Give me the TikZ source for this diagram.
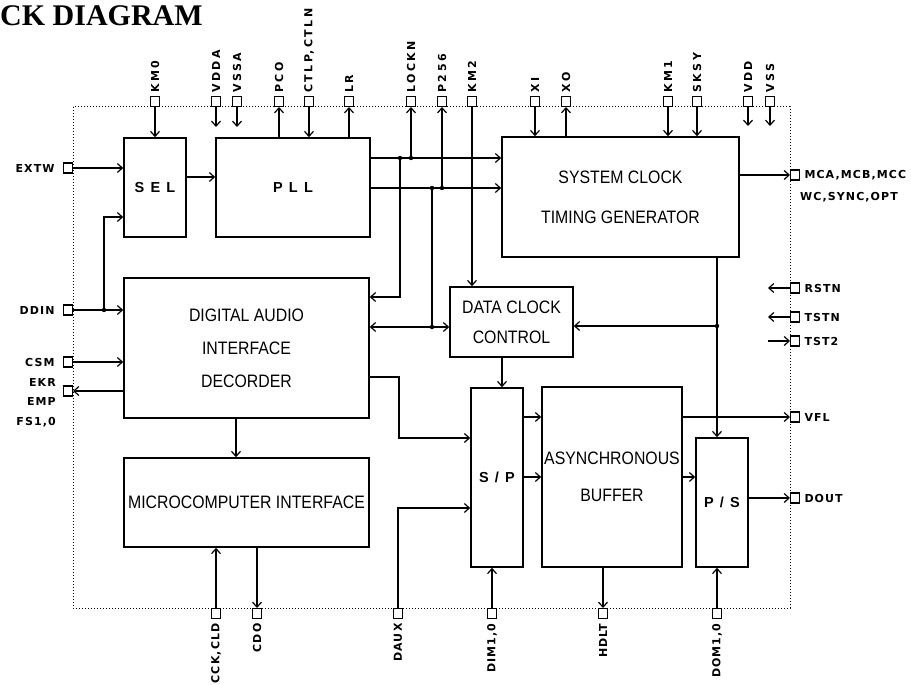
\documentclass[tikz,border=0pt]{standalone}
\usepackage{fontspec}
\setmainfont{Liberation Sans}
\newfontfamily\pinfont[LetterSpace=10]{DejaVu Sans}
\newfontfamily\pinfontv[LetterSpace=22]{DejaVu Sans}
\newfontfamily\blkfont[FakeStretch=0.88]{Liberation Sans}
\newfontfamily\selfont[LetterSpace=15]{Liberation Sans}
\newfontfamily\titlefont{Liberation Serif}
\usetikzlibrary{arrows.meta,calc}
\begin{document}
\begin{tikzpicture}[x=1pt,y=-1pt,
  blk/.style={draw,line width=1.6pt,inner sep=0pt,align=center,font=\blkfont\fontsize{18}{33}\selectfont},
  boldblk/.style={draw,line width=1.6pt,inner sep=0pt,align=center,font=\selfont\bfseries\fontsize{14.5}{20}\selectfont},
  pinbox/.style={draw,fill=white,line width=1.3pt,minimum width=9pt,minimum height=10pt,inner sep=0pt},
  pinlbl/.style={font=\pinfont\bfseries\fontsize{11}{20}\selectfont,inner sep=0pt},
  pinlblv/.style={font=\pinfontv\bfseries\fontsize{11}{20}\selectfont,inner sep=0pt,rotate=90},
  pinlblb/.style={font=\pinfont\bfseries\fontsize{11}{20}\selectfont,inner sep=0pt,rotate=90},
  wire/.style={line width=1.4pt},
  arr/.style={wire,-{Straight Barb[length=5pt,width=9pt,line width=1.2pt]}},
  arrtwo/.style={wire,{Straight Barb[length=5pt,width=9pt,line width=1.2pt]}-{Straight Barb[length=5pt,width=9pt,line width=1.2pt]}},
  dot/.style={fill=black}]
\useasboundingbox (0,0) rectangle (911,685);

% title
\node[font=\titlefont\bfseries\fontsize{30}{36}\selectfont,anchor=base west,inner sep=0pt] (title) at (0,26) {CK DIAGRAM};

% chip border
\draw[dotted,line width=1pt] (73,107) rectangle (790,608);

% blocks
\node[boldblk,minimum width=62pt,minimum height=99pt] (sel) at (155,187.5) {S E L};
\node[boldblk,minimum width=154pt,minimum height=99pt] (pll) at (293,187.5) {P L L};
\node[blk,font=\blkfont\fontsize{18}{40}\selectfont,minimum width=237pt,minimum height=120pt] (sys) at (620.5,197) {SYSTEM CLOCK\\TIMING GENERATOR};
\node[blk,minimum width=245pt,minimum height=140pt] (dai) at (246.5,348) {DIGITAL AUDIO\\INTERFACE\\DECORDER};
\node[blk,font=\blkfont\fontsize{18}{30}\selectfont,minimum width=123pt,minimum height=70pt] (dcc) at (511.5,322) {DATA CLOCK\\CONTROL};
\node[blk,minimum width=245pt,minimum height=89pt] (mci) at (246.5,502.5) {MICROCOMPUTER INTERFACE};
\node[boldblk,minimum width=52pt,minimum height=179pt] (sp) at (497,477.5) {S / P};
\node[blk,font=\blkfont\fontsize{18}{37}\selectfont,minimum width=140pt,minimum height=180pt] (ab) at (612,477) {ASYNCHRONOUS\\BUFFER};
\node[boldblk,minimum width=52pt,minimum height=129pt] (ps) at (722,502.5) {P / S};

% top pins
\foreach \n/\x/\t in {kmo/155/KM0, vdda/216/VDDA, vssa/237/VSSA, pco/279/PCO, ctl/309/{CTLP,CTLN}, lr/349/LR, lockn/411/LOCKN, p256/442/P256, km2/472/KM2, xi/535/XI, xo/566/XO, km1/668/KM1, sksy/697/SKSY, vdd/748/VDD, vss/770/VSS}{
  \node[pinbox,anchor=south] (\n) at (\x,107) {};
  \node[pinlblv,anchor=west] (\n-l) at ([yshift=3pt]\n.north) {\t};
}
% bottom pins
\foreach \n/\x/\t in {cck/216/{CCK,CLD}, cdo/257/CDO, daux/398/DAUX, dim/492/{DIM1,0}, hdlt/603/HDLT, dom/717/{DOM1,0}}{
  \node[pinbox,anchor=north] (\n) at (\x,608) {};
  \node[pinlblb,anchor=east] (\n-l) at ([yshift=-4pt]\n.south) {\t};
}
% left pins
\foreach \n/\y/\t in {extw/168/EXTW, ddin/310/DDIN, csm/362/CSM}{
  \node[pinbox,anchor=east] (\n) at (73,\y) {};
  \node[pinlbl,anchor=east] (\n-l) at ([xshift=-8pt]\n.west) {\t};
}
\node[pinbox,anchor=east] (err) at (73,391) {};
\node[pinlbl,anchor=east] (err-l1) at (56,382) {EKR};
\node[pinlbl,anchor=east] (err-l2) at (56,401) {EMP};
\node[pinlbl,anchor=east] (err-l3) at (56,422) {FS1,0};
% right pins
\foreach \n/\y/\t in {mca/175/{MCA,MCB,MCC}, rstn/288/RSTN, tstn/317/TSTN, tst2/341/TST2, vfl/417/VFL, dout/498/DOUT}{
  \node[pinbox,anchor=west] (\n) at (790,\y) {};
  \node[pinlbl,anchor=west] (\n-l) at ([xshift=4pt]\n.east) {\t};
}
\node[pinlbl,anchor=west] (mca-l2) at (800,197) {WC,SYNC,OPT};

% coordinates
\coordinate (ja) at (400,158);
\coordinate (jb) at (411,158);
\coordinate (jc) at (432,188);
\coordinate (jd) at (442,188);
\coordinate (je) at (400,297);
\coordinate (jf) at (432,327);
\coordinate (jg) at (717,326);
\coordinate (jh) at (502,0);
\coordinate (ji) at (399,377);
\coordinate (jj) at (399,438);
\coordinate (jk) at (398,508);
\coordinate (yl) at (0,417);
\coordinate (ym) at (0,477);
\coordinate (jn) at (236,0);
\coordinate (yo) at (0,177);
\coordinate (jp) at (104,310);
\coordinate (jq) at (104,217);

% top connections
\draw[arr] (kmo.south) -- (kmo.south |- sel.north);
\draw[arr] (vdda.south) -- ++(0,20);
\draw[arr] (vssa.south) -- ++(0,20);
\draw[arr] (pco.south |- pll.north) -- (pco.south);
\draw[arr] (ctl.south) -- (ctl.south |- pll.north);
\draw[arr] (lr.south |- pll.north) -- (lr.south);
\draw[arr] (jb) -- (lockn.south);
\draw[arr] (jd) -- (p256.south);
\draw[arr] (km2.south) -- (km2.south |- dcc.north);
\draw[arr] (xi.south) -- (xi.south |- sys.north);
\draw[arr] (xo.south |- sys.north) -- (xo.south);
\draw[arr] (km1.south) -- (km1.south |- sys.north);
\draw[arr] (sksy.south) -- (sksy.south |- sys.north);
\draw[arr] (vdd.south) -- ++(0,19);
\draw[arr] (vss.south) -- ++(0,19);

% PLL outputs
\draw[arr] (pll.east |- ja) -- (sys.west |- ja);
\draw[arr] (pll.east |- jc) -- (sys.west |- jc);
\draw[arr] (ja) -- (je) -- (dai.east |- je);
\draw[wire] (jc) -- (jf);
\draw[arrtwo] (dai.east |- jf) -- (dcc.west |- jf);

% system clock
\draw[arr] (sys.east |- mca) -- (mca.west);
\draw[arr] (sys.south -| jg) -- (ps.north -| jg);
\draw[arr] (jg) -- (dcc.east |- jg);
\draw[arr] (dcc.south -| jh) -- (sp.north -| jh);

% data path
\draw[arr] (dai.east |- ji) -- (ji) -- (jj) -- (sp.west |- jj);
\draw[arr] (daux.north) -- (jk) -- (sp.west |- jk);
\draw[arr] (sp.east |- yl) -- (ab.west |- yl);
\draw[arr] (sp.east |- ym) -- (ab.west |- ym);
\draw[arr] (ab.east |- vfl) -- (vfl.west);
\draw[arr] (ab.east |- ym) -- (ps.west |- ym);
\draw[arr] (ps.east |- dout) -- (dout.west);
\draw[arr] (ab.south -| hdlt) -- (hdlt.north);
\draw[arr] (dim.north) -- (dim.north |- sp.south);
\draw[arr] (dom.north) -- (dom.north |- ps.south);
\draw[arr] (cck.north) -- (cck.north |- mci.south);
\draw[arr] (cdo.north |- mci.south) -- (cdo.north);
\draw[arr] (dai.south -| jn) -- (mci.north -| jn);

% left side
\draw[arr] (extw.east) -- (extw.east -| sel.west);
\draw[arr] (sel.east |- yo) -- (pll.west |- yo);
\draw[arr] (ddin.east) -- (ddin.east -| dai.west);
\draw[arr] (jp) -- (jq) -- (sel.west |- jq);
\draw[arr] (csm.east) -- (csm.east -| dai.west);
\draw[arr] (err.east -| dai.west) -- (err.east);

% right short arrows
\draw[arr] (rstn.west) -- ++(-22,0);
\draw[arr] (tstn.west) -- ++(-22,0);
\draw[arr] ([xshift=-22pt]tst2.west) -- (tst2.west);

% junction dots
\foreach \c in {ja,jb,jc,jd,jf,jg,jp}{\fill[dot] (\c) circle (2.2);}
\end{tikzpicture}
\end{document}
